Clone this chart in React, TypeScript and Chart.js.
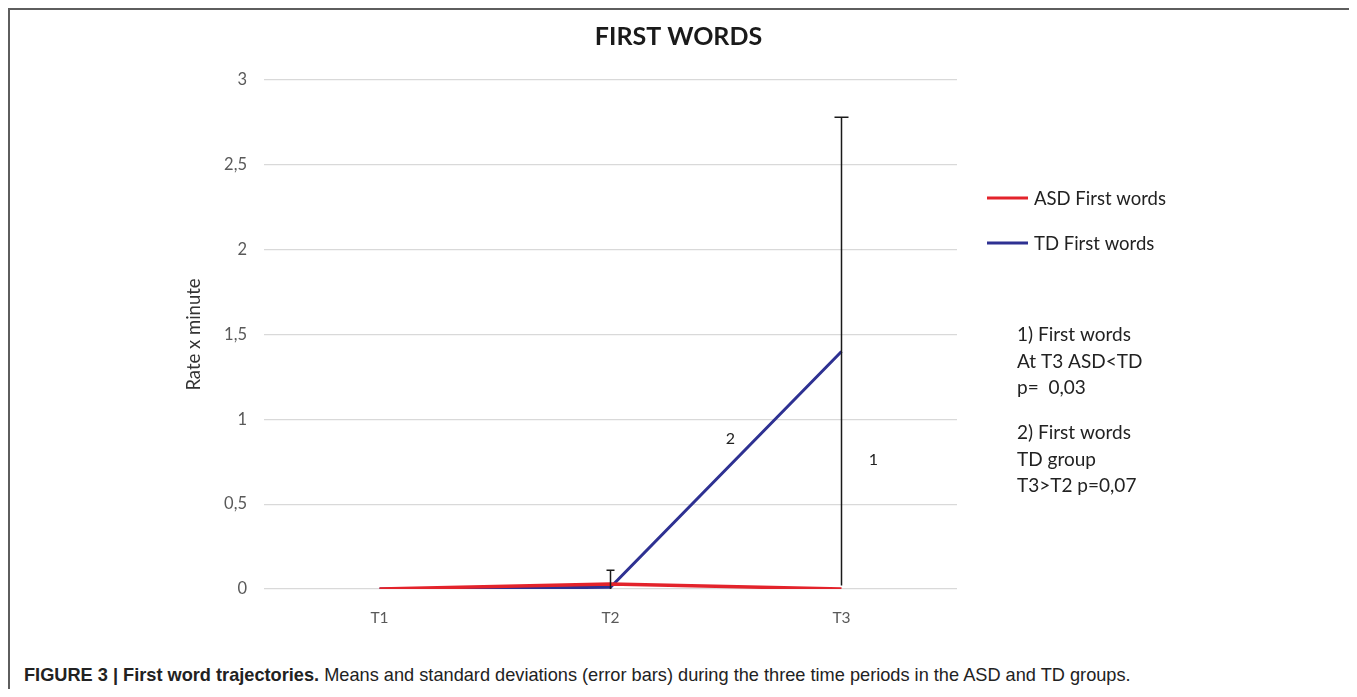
import React, { useEffect, useRef } from "react";
import { Chart, registerables } from "chart.js";

Chart.register(...registerables);

const categories = ["T1", "T2", "T3"];
const asdMeans = [0, 0.03, 0];
const tdMeans = [0, 0.01, 1.4];
const asdSD = [0, 0.08, 0];
const tdSD = [0, 0, 1.38];
const yMin = 0;
const yMax = 3;
const yStep = 0.5;
const seriesNames = ["ASD First words", "TD First words"];
const seriesColors = ["#e3232b", "#2e3192"];
const chartTitle = "FIRST WORDS";
const yTitle = "Rate x minute";
const noteGroups = [
  ["1) First words", "At T3 ASD<TD", "p=  0,03"],
  ["2) First words", "TD group", "T3>T2 p=0,07"],
];
const lineMarks = [
  { text: "2", x: 1, dx: 120, y: 0.885 },
  { text: "1", x: 2, dx: 32, y: 0.76 },
];

const FONT = "Lato, 'Open Sans', sans-serif";

const errorBarPlugin = {
  id: "errorBars",
  afterDatasetsDraw(chart: any) {
    const { ctx, scales } = chart;
    const xs = scales.x;
    const ys = scales.y;
    const sets = [
      { means: asdMeans, sd: asdSD },
      { means: tdMeans, sd: tdSD },
    ];
    ctx.save();
    ctx.strokeStyle = "#1a1a1a";
    ctx.lineWidth = 1.5;
    sets.forEach((s) => {
      s.means.forEach((m, i) => {
        const sd = s.sd[i];
        if (!sd) return;
        const x = xs.getPixelForValue(i);
        const lo = ys.getPixelForValue(Math.max(yMin, m - sd));
        const hi = ys.getPixelForValue(m + sd);
        const cap = sd > 0.5 ? 7 : 4;
        ctx.beginPath();
        ctx.moveTo(x, lo);
        ctx.lineTo(x, hi);
        ctx.moveTo(x - cap, hi);
        ctx.lineTo(x + cap, hi);
        ctx.stroke();
      });
    });
    ctx.restore();
  },
};

const annotationsPlugin = {
  id: "annotations",
  afterDraw(chart: any) {
    const { ctx, chartArea, scales } = chart;
    const r = chartArea.right;
    ctx.save();
    // legend
    const legendY = [198, 243];
    seriesNames.forEach((name, i) => {
      ctx.strokeStyle = seriesColors[i];
      ctx.lineWidth = 3;
      ctx.beginPath();
      ctx.moveTo(r + 30, legendY[i]);
      ctx.lineTo(r + 71, legendY[i]);
      ctx.stroke();
      ctx.fillStyle = "#222";
      ctx.font = `18.5px ${FONT}`;
      ctx.textAlign = "left";
      ctx.textBaseline = "middle";
      ctx.fillText(name, r + 77, legendY[i] + 1);
    });
    // notes
    ctx.font = `19px ${FONT}`;
    ctx.fillStyle = "#222";
    const groupStart = [335, 433];
    noteGroups.forEach((g, gi) => {
      g.forEach((line, li) => {
        ctx.fillText(line, r + 60, groupStart[gi] + li * 26.5);
      });
    });
    // numbered marks on the plot
    ctx.font = `16px ${FONT}`;
    ctx.textAlign = "center";
    lineMarks.forEach((m) => {
      ctx.fillText(m.text, scales.x.getPixelForValue(m.x) + m.dx, scales.y.getPixelForValue(m.y));
    });
    ctx.restore();
  },
};

export default function App() {
  const ref = useRef<HTMLCanvasElement | null>(null);

  useEffect(() => {
    if (!ref.current) return;
    const chart = new Chart(ref.current, {
      type: "line",
      data: {
        labels: categories,
        datasets: [
          {
            label: seriesNames[0],
            data: asdMeans,
            borderColor: seriesColors[0],
            backgroundColor: seriesColors[0],
            borderWidth: 3.5,
            pointRadius: 0,
            tension: 0,
          },
          {
            label: seriesNames[1],
            data: tdMeans,
            borderColor: seriesColors[1],
            backgroundColor: seriesColors[1],
            borderWidth: 3,
            pointRadius: 0,
            tension: 0,
          },
        ],
      },
      options: {
        responsive: false,
        animation: false,
        devicePixelRatio: 1,
        layout: { padding: { left: 0, right: 0, top: 0, bottom: 0 } },
        plugins: {
          legend: { display: false },
          tooltip: { enabled: false },
          title: {
            display: true,
            text: chartTitle,
            color: "#1a1a1a",
            font: { family: FONT, size: 25, weight: "bold", lineHeight: 1.2 },
            padding: { top: 22, bottom: 28 },
          },
        },
        scales: {
          x: {
            type: "category",
            offset: true,
            grid: { display: false, drawTicks: false },
            border: { display: false },
            ticks: {
              color: "#595959",
              font: { family: FONT, size: 15.5 },
              padding: 20,
            },
            afterFit: (s: any) => {
              s.height = 61;
            },
          },
          y: {
            min: yMin,
            max: yMax,
            grid: { color: "#d9d9d9", lineWidth: 1.2, drawTicks: false },
            border: { display: false },
            ticks: {
              stepSize: yStep,
              color: "#595959",
              font: { family: FONT, size: 16.5 },
              padding: 17,
              callback: (v: any) => String(v).replace(".", ","),
            },
            title: {
              display: true,
              text: yTitle,
              color: "#333",
              font: { family: FONT, size: 18.5 },
              padding: { top: 183, bottom: 0 },
            },
            afterFit: (s: any) => {
              s.width = 264;
            },
          },
          side: {
            type: "linear",
            position: "right",
            display: true,
            grid: { display: false, drawTicks: false },
            border: { display: false },
            ticks: { display: false },
            afterFit: (s: any) => {
              s.width = 400;
            },
          },
        },
      },
      plugins: [errorBarPlugin, annotationsPlugin],
    } as any);
    return () => chart.destroy();
  }, []);

  return (
    <div style={{ position: "relative", width: 1357, height: 697, overflow: "hidden", margin: -8 }}>
      <div
        style={{
          position: "absolute",
          left: 8,
          top: 8,
          width: 1348,
          height: 720,
          border: "2px solid #5e5e5e",
          boxSizing: "border-box",
        }}
      />
      <canvas
        ref={ref}
        width={1357}
        height={650}
        style={{ position: "absolute", left: 0, top: 0, width: 1357, height: 650 }}
      />
      <div
        style={{
          position: "absolute",
          left: 24,
          top: 664,
          fontFamily: "'Liberation Sans', Arial, sans-serif",
          fontSize: 18.2,
          color: "#222",
          whiteSpace: "nowrap",
          lineHeight: "22px",
        }}
      >
        <b>FIGURE 3 | First word trajectories.</b> Means and standard deviations (error bars) during the three time
        periods in the ASD and TD groups.
      </div>
    </div>
  );
}
